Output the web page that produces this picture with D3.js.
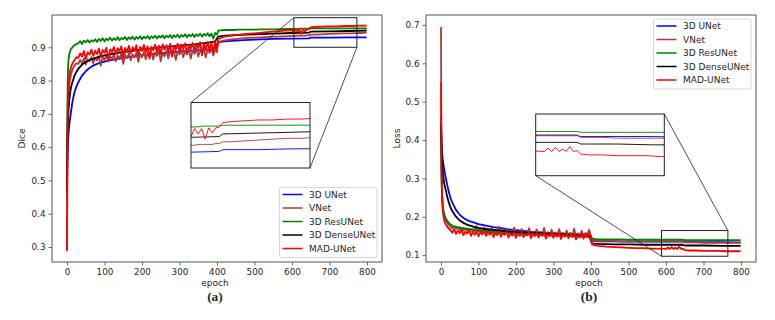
<!DOCTYPE html>
<html>
<head>
<meta charset="utf-8">
<script src="https://cdn.jsdelivr.net/npm/d3@7"></script>
<style>
  body { margin: 0; background: #fff; }
  text { font-family: "DejaVu Sans", sans-serif; fill: #262626; }
</style>
</head>
<body>
<div class="chart"></div>
<script>
var epochsFine = [0,1,2,3,4,6,8,10,13,16,20,25,
  30,35,40,45,50,55,60,65,70,75,80,85,90,95,100,105,110,115,120,125,
  130,135,140,145,150,155,160,165,170,175,180,185,190,195,200,205,210,215,220,225,
  230,235,240,245,250,255,260,265,270,275,280,285,290,295,300,305,310,315,320,325,
  330,335,340,345,350,355,360,365,370,375,380,385,390,395,400,
  403,410,420,440,460,480,500,520,540,560,580,
  600,605,610,615,620,625,630,635,640,645,
  650,660,680,700,720,740,760,780,799];
var epochsCoarse = [0,1,2,3,4,6,8,10,13,16,20,25,
  30,40,50,60,70,80,90,100,
  120,140,160,180,200,220,240,260,280,300,320,340,360,380,395,
  403,420,460,500,550,600,645,650,700,750,799];

var seriesNames = ["3D UNet", "VNet", "3D ResUNet", "3D DenseUNet", "MAD-UNet"];
var seriesColors = ["#0000ff", "#b03a3a", "#008000", "#000000", "#ff0000"];

var epochTicks = [0,100,200,300,400,500,600,700,800];
var diceTicks = [0.3,0.4,0.5,0.6,0.7,0.8,0.9];
var lossTicks = [0.1,0.2,0.3,0.4,0.5,0.6,0.7];

// ---- Dice (panel a) ----
var diceUNet = [0.45,0.55,0.59,0.62,0.64,0.665,0.685,0.70,0.725,0.745,0.765,0.782,
  0.795,0.815,0.828,0.838,0.845,0.850,0.854,0.857,
  0.862,0.866,0.870,0.873,0.876,0.879,0.881,0.883,0.885,0.887,0.889,0.890,0.892,0.894,0.896,
  0.915,0.918,0.921,0.923,0.925,0.926,0.927,0.929,0.929,0.930,0.930];
var diceVNet = [0.287,0.580,0.680,0.730,0.755,0.785,0.803,0.815,0.828,0.837,0.845,0.852,
  0.850,0.862,0.853,0.866,0.848,0.864,0.858,0.870,0.852,0.868,
  0.860,0.873,0.845,0.870,0.862,0.876,0.857,0.874,0.864,0.879,
  0.858,0.876,0.866,0.881,0.850,0.877,0.867,0.882,0.861,0.879,
  0.869,0.884,0.856,0.880,0.870,0.886,0.864,0.883,0.872,0.887,
  0.863,0.885,0.874,0.889,0.858,0.884,0.873,0.890,0.867,0.888,
  0.876,0.891,0.862,0.887,0.878,0.893,0.870,0.890,0.879,0.894,
  0.866,0.891,0.880,0.896,0.872,0.893,0.882,0.897,0.869,0.894,
  0.883,0.898,0.875,0.895,0.885,
  0.915,0.918,0.921,0.924,0.926,0.928,0.929,0.930,0.931,0.932,0.933,
  0.934,0.934,0.934,0.935,0.935,0.935,0.935,0.935,0.936,0.936,
  0.938,0.938,0.939,0.940,0.941,0.942,0.942,0.943,0.944];
var diceResUNet = [0.560,0.720,0.800,0.845,0.862,0.878,0.887,0.893,0.898,0.902,0.906,0.910,
  0.912,0.918,0.910,0.920,0.915,0.922,0.914,0.921,0.917,0.924,
  0.916,0.925,0.919,0.927,0.918,0.926,0.921,0.929,0.920,0.927,
  0.922,0.930,0.921,0.928,0.924,0.931,0.922,0.930,0.925,0.932,
  0.923,0.931,0.926,0.933,0.924,0.932,0.927,0.934,0.925,0.933,
  0.928,0.935,0.926,0.934,0.929,0.936,0.927,0.935,0.930,0.937,
  0.928,0.936,0.931,0.938,0.929,0.937,0.932,0.939,0.930,0.938,
  0.933,0.940,0.931,0.939,0.934,0.941,0.932,0.940,0.935,0.942,
  0.933,0.941,0.926,0.943,0.938,
  0.950,0.951,0.952,0.952,0.953,0.953,0.953,0.954,0.954,0.954,0.955,
  0.955,0.955,0.955,0.955,0.956,0.956,0.956,0.956,0.956,0.956,
  0.957,0.957,0.957,0.957,0.957,0.957,0.957,0.957,0.957];
var diceDenseUNet = [0.47,0.60,0.66,0.69,0.71,0.74,0.76,0.775,0.79,0.80,0.815,0.826,
  0.835,0.848,0.856,0.862,0.866,0.870,0.873,0.876,
  0.880,0.884,0.887,0.890,0.893,0.896,0.899,0.901,0.903,0.905,0.907,0.909,0.912,0.915,0.918,
  0.932,0.935,0.937,0.939,0.941,0.943,0.944,0.947,0.948,0.949,0.950];
var diceMAD = [0.290,0.620,0.720,0.770,0.790,0.812,0.828,0.838,0.848,0.855,0.862,0.870,
  0.868,0.882,0.872,0.889,0.865,0.885,0.878,0.893,0.874,0.890,
  0.880,0.896,0.871,0.892,0.884,0.899,0.862,0.894,0.886,0.901,
  0.879,0.897,0.888,0.903,0.870,0.898,0.887,0.904,0.882,0.900,
  0.890,0.906,0.875,0.901,0.889,0.907,0.884,0.903,0.866,0.902,
  0.891,0.908,0.886,0.905,0.879,0.909,0.893,0.906,0.887,0.910,
  0.872,0.905,0.892,0.911,0.888,0.908,0.894,0.912,0.880,0.907,
  0.895,0.913,0.889,0.910,0.897,0.915,0.876,0.911,0.893,0.916,
  0.890,0.914,0.884,0.918,0.896,
  0.925,0.928,0.932,0.935,0.938,0.940,0.942,0.944,0.946,0.948,0.950,
  0.952,0.944,0.953,0.947,0.953,0.941,0.954,0.948,0.954,0.955,
  0.960,0.961,0.962,0.963,0.963,0.964,0.964,0.965,0.965];

// ---- Loss (panel b) ----
var lossUNet = [0.46,0.42,0.39,0.37,0.355,0.34,0.327,0.315,0.300,0.285,0.268,0.250,
  0.237,0.218,0.205,0.197,0.191,0.187,0.184,0.181,
  0.177,0.173,0.170,0.167,0.165,0.163,0.161,0.160,0.158,0.157,0.156,0.155,0.154,0.153,0.152,
  0.137,0.136,0.136,0.135,0.135,0.135,0.135,0.134,0.134,0.134,0.133];
var lossVNet = [0.695,0.400,0.300,0.260,0.240,0.218,0.205,0.197,0.190,0.185,0.180,0.175,
  0.170,0.175,0.168,0.173,0.166,0.171,0.165,0.170,0.164,0.169,
  0.163,0.168,0.162,0.176,0.161,0.167,0.160,0.172,0.160,0.166,
  0.159,0.170,0.159,0.165,0.158,0.174,0.158,0.164,0.157,0.169,
  0.157,0.163,0.156,0.172,0.156,0.162,0.155,0.168,0.155,0.161,
  0.155,0.170,0.154,0.161,0.154,0.167,0.154,0.160,0.153,0.171,
  0.153,0.160,0.153,0.166,0.152,0.159,0.152,0.168,0.152,0.158,
  0.151,0.164,0.151,0.158,0.151,0.169,0.150,0.157,0.150,0.163,
  0.150,0.158,0.152,0.166,0.150,
  0.138,0.138,0.137,0.137,0.137,0.136,0.136,0.136,0.136,0.136,0.136,
  0.136,0.136,0.136,0.136,0.136,0.136,0.136,0.136,0.136,0.136,
  0.133,0.133,0.133,0.132,0.132,0.132,0.132,0.132,0.132];
var lossResUNet = [0.420,0.330,0.280,0.255,0.238,0.220,0.210,0.203,0.196,0.190,0.185,0.180,
  0.177,0.173,0.175,0.171,0.173,0.169,0.171,0.167,0.169,0.166,
  0.168,0.165,0.167,0.163,0.166,0.162,0.165,0.161,0.164,0.160,
  0.163,0.159,0.162,0.158,0.162,0.158,0.161,0.157,0.161,0.157,
  0.160,0.156,0.160,0.156,0.159,0.155,0.159,0.155,0.158,0.154,
  0.158,0.154,0.157,0.153,0.157,0.153,0.156,0.152,0.156,0.152,
  0.156,0.152,0.155,0.151,0.155,0.151,0.154,0.150,0.154,0.150,
  0.154,0.150,0.153,0.149,0.153,0.149,0.152,0.148,0.152,0.148,
  0.152,0.148,0.151,0.147,0.150,
  0.143,0.142,0.141,0.141,0.141,0.141,0.140,0.140,0.140,0.140,0.140,
  0.140,0.140,0.140,0.140,0.140,0.140,0.140,0.140,0.140,0.140,
  0.139,0.139,0.139,0.139,0.139,0.139,0.139,0.139,0.139];
var lossDenseUNet = [0.44,0.39,0.36,0.34,0.325,0.305,0.29,0.28,0.268,0.255,0.24,0.225,
  0.215,0.200,0.190,0.184,0.179,0.176,0.173,0.171,
  0.168,0.166,0.164,0.162,0.160,0.159,0.158,0.157,0.156,0.155,0.154,0.153,0.152,0.151,0.150,
  0.130,0.129,0.128,0.128,0.127,0.127,0.127,0.125,0.125,0.124,0.124];
var lossMAD = [0.550,0.350,0.280,0.245,0.225,0.205,0.193,0.186,0.180,0.175,0.170,0.165,
  0.158,0.167,0.155,0.164,0.157,0.166,0.152,0.162,0.156,0.164,
  0.150,0.161,0.153,0.162,0.149,0.160,0.154,0.163,0.150,0.159,
  0.153,0.161,0.147,0.158,0.152,0.160,0.148,0.157,0.153,0.161,
  0.146,0.156,0.151,0.159,0.145,0.157,0.150,0.158,0.147,0.155,
  0.151,0.159,0.144,0.156,0.149,0.157,0.146,0.155,0.150,0.158,
  0.143,0.154,0.149,0.157,0.145,0.155,0.148,0.156,0.142,0.153,
  0.148,0.156,0.144,0.154,0.147,0.155,0.141,0.152,0.146,0.155,
  0.143,0.153,0.147,0.158,0.140,
  0.128,0.126,0.124,0.122,0.121,0.120,0.119,0.118,0.118,0.117,0.117,
  0.116,0.120,0.116,0.121,0.116,0.119,0.116,0.122,0.116,0.117,
  0.113,0.112,0.112,0.111,0.111,0.111,0.110,0.110,0.110];

var svgWidth = 775;
var svgHeight = 320;

var svg = d3.select(".chart")
  .append("svg")
  .attr("width", svgWidth)
  .attr("height", svgHeight)
  .style("display", "block");

svg.append("rect").attr("width", svgWidth).attr("height", svgHeight).attr("fill", "#fff");

function toPoints(xs, ys) {
  return xs.map(function (e, i) { return [e, ys[i]]; });
}

function drawPanel(cfg) {
  var x = d3.scaleLinear().domain([-40, 840]).range([cfg.left, cfg.right]);
  var y = d3.scaleLinear().domain(cfg.yDomain).range([cfg.bottom, cfg.top]);
  var g = svg.append("g");

  // curves
  var line = d3.line().x(function (d) { return x(d[0]); }).y(function (d) { return y(d[1]); });
  cfg.series.forEach(function (s, i) {
    g.append("path")
      .attr("d", line(toPoints(s.x, s.y)))
      .attr("fill", "none")
      .attr("stroke", seriesColors[i])
      .attr("stroke-width", 1.8)
      .attr("stroke-linejoin", "round");
  });

  // axes
  var bottomAxis = d3.axisBottom(x).tickValues(epochTicks).tickSize(3.5).tickPadding(3);
  var leftAxis = d3.axisLeft(y).tickValues(cfg.yTicks).tickSize(3.5).tickPadding(3)
    .tickFormat(d3.format(".1f"));
  var gx = g.append("g").attr("transform", "translate(0," + cfg.bottom + ")").call(bottomAxis);
  var gy = g.append("g").attr("transform", "translate(" + cfg.left + ",0)").call(leftAxis);
  [gx, gy].forEach(function (a) {
    a.select(".domain").remove();
    a.selectAll(".tick line").attr("stroke", "#444").attr("stroke-width", 0.8);
    a.selectAll(".tick text").attr("font-size", 8.8).attr("fill", "#262626")
      .attr("font-family", "DejaVu Sans, sans-serif");
  });

  // frame
  g.append("rect")
    .attr("x", cfg.left).attr("y", cfg.top)
    .attr("width", cfg.right - cfg.left).attr("height", cfg.bottom - cfg.top)
    .attr("fill", "none").attr("stroke", "#555").attr("stroke-width", 1);

  // labels
  g.append("text").attr("x", (cfg.left + cfg.right) / 2 - 2).attr("y", 286)
    .attr("text-anchor", "middle").attr("font-size", 9).text("epoch");
  g.append("text").attr("x", (cfg.left + cfg.right) / 2 - 2).attr("y", 301)
    .attr("text-anchor", "middle").attr("font-size", 13.5).attr("font-weight", "bold")
    .style("font-family", "'Liberation Serif', serif").attr("fill", "#000").text(cfg.caption);
  g.append("text")
    .attr("transform", "translate(" + cfg.yLabelX + "," + ((cfg.top + cfg.bottom) / 2) + ") rotate(-90)")
    .attr("text-anchor", "middle").attr("font-size", 9).text(cfg.yLabel);

  // zoom rectangle in the main axes
  var ins = cfg.inset;
  var rx0 = x(ins.xDomain[0]), rx1 = x(ins.xDomain[1]);
  var ry0 = y(ins.rectY[1]), ry1 = y(ins.rectY[0]);
  g.append("rect").attr("x", rx0).attr("y", ry0)
    .attr("width", rx1 - rx0).attr("height", ry1 - ry0)
    .attr("fill", "none").attr("stroke", "#222").attr("stroke-width", 1);

  // inset axes
  var ix = d3.scaleLinear().domain(ins.xDomain).range([ins.x0, ins.x1]);
  var iy = d3.scaleLinear().domain(ins.yDomain).range([ins.y1, ins.y0]);
  var clipId = "clip-" + cfg.caption.replace(/\W/g, "");
  svg.append("clipPath").attr("id", clipId).append("rect")
    .attr("x", ins.x0).attr("y", ins.y0)
    .attr("width", ins.x1 - ins.x0).attr("height", ins.y1 - ins.y0);
  g.append("rect").attr("x", ins.x0).attr("y", ins.y0)
    .attr("width", ins.x1 - ins.x0).attr("height", ins.y1 - ins.y0).attr("fill", "#fff");
  var iline = d3.line().x(function (d) { return ix(d[0]); }).y(function (d) { return iy(d[1]); });
  var ig = g.append("g").attr("clip-path", "url(#" + clipId + ")");
  cfg.series.forEach(function (s, i) {
    ig.append("path")
      .attr("d", iline(toPoints(s.x, s.y)))
      .attr("fill", "none")
      .attr("stroke", seriesColors[i])
      .attr("stroke-width", 0.9);
  });
  g.append("rect").attr("x", ins.x0).attr("y", ins.y0)
    .attr("width", ins.x1 - ins.x0).attr("height", ins.y1 - ins.y0)
    .attr("fill", "none").attr("stroke", "#222").attr("stroke-width", 1);

  // connectors between inset and zoom rectangle
  var corners = {
    tl: [[ins.x0, ins.y0], [rx0, ry0]],
    tr: [[ins.x1, ins.y0], [rx1, ry0]],
    bl: [[ins.x0, ins.y1], [rx0, ry1]],
    br: [[ins.x1, ins.y1], [rx1, ry1]]
  };
  ins.links.forEach(function (k) {
    var c = corners[k];
    g.append("line")
      .attr("x1", c[0][0]).attr("y1", c[0][1]).attr("x2", c[1][0]).attr("y2", c[1][1])
      .attr("stroke", "#222").attr("stroke-width", 0.8);
  });

  // legend
  var lg = cfg.legend;
  g.append("rect").attr("x", lg.x).attr("y", lg.y).attr("width", lg.w).attr("height", lg.h)
    .attr("rx", 2).attr("fill", "#fff").attr("fill-opacity", 0.85)
    .attr("stroke", "#cccccc").attr("stroke-width", 0.8);
  seriesNames.forEach(function (name, i) {
    var yy = lg.y + 7 + i * 13.5;
    g.append("line").attr("x1", lg.x + 3).attr("x2", lg.x + 23).attr("y1", yy).attr("y2", yy)
      .attr("stroke", seriesColors[i]).attr("stroke-width", 1.5);
    g.append("text").attr("x", lg.x + 29.5).attr("y", yy).attr("dy", "0.35em")
      .attr("font-size", 9).text(name);
  });
}

drawPanel({
  left: 52, right: 382, top: 15, bottom: 262,
  yDomain: [0.255, 0.997], yTicks: diceTicks,
  yLabel: "Dice", yLabelX: 25, caption: "(a)",
  series: [
    { x: epochsCoarse, y: diceUNet },
    { x: epochsFine, y: diceVNet },
    { x: epochsFine, y: diceResUNet },
    { x: epochsCoarse, y: diceDenseUNet },
    { x: epochsFine, y: diceMAD }
  ],
  inset: {
    x0: 191, x1: 310, y0: 102.5, y1: 168,
    xDomain: [605, 773], yDomain: [0.908, 0.983], rectY: [0.900, 0.989],
    links: ["tl", "br"]
  },
  legend: { x: 279.5, y: 187.5, w: 97.5, h: 70 }
});

drawPanel({
  left: 426, right: 756, top: 15, bottom: 262,
  yDomain: [0.082, 0.726], yTicks: lossTicks,
  yLabel: "Loss", yLabelX: 400, caption: "(b)",
  series: [
    { x: epochsCoarse, y: lossUNet },
    { x: epochsFine, y: lossVNet },
    { x: epochsFine, y: lossResUNet },
    { x: epochsCoarse, y: lossDenseUNet },
    { x: epochsFine, y: lossMAD }
  ],
  inset: {
    x0: 535.7, x1: 664.3, y0: 114, y1: 175.7,
    xDomain: [588, 765], yDomain: [0.087, 0.161], rectY: [0.097, 0.164],
    links: ["bl", "tr"]
  },
  legend: { x: 653.5, y: 19, w: 97.5, h: 70 }
});
</script>
</body>
</html>
